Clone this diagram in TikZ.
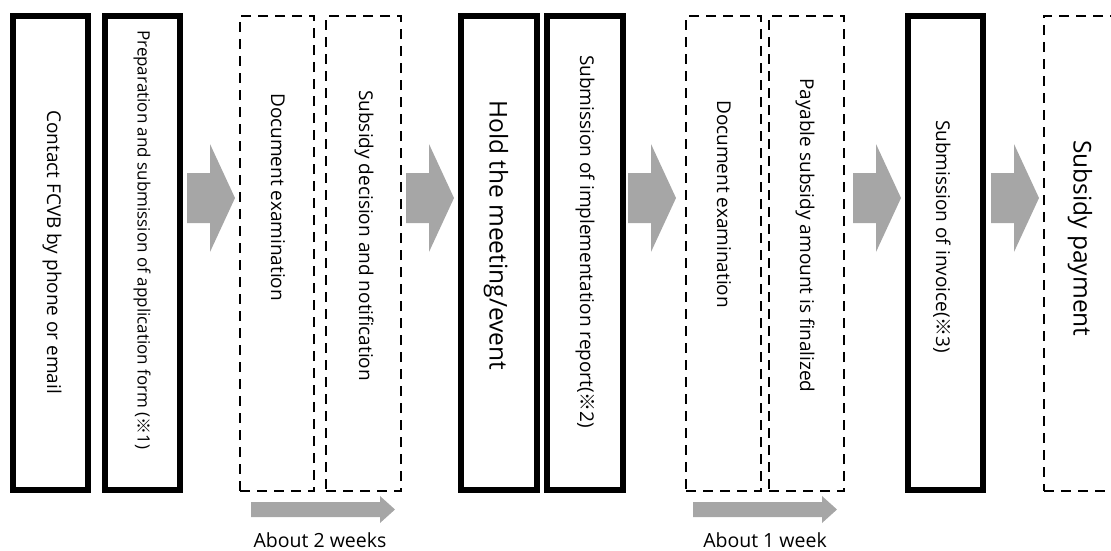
\documentclass[tikz,border=0pt]{standalone}
\usepackage{fontspec}
\setmainfont{Open Sans}
\newfontfamily\cjkfont{Noto Sans CJK JP}
\newcommand\kome{{\cjkfont ※}}
\definecolor{arrowgray}{RGB}{166,166,166}
\begin{document}
\begin{tikzpicture}[x=1pt,y=-1pt,
  solidbox/.style={draw=black, line width=6pt, minimum height=474pt, inner sep=0pt},
  dashbox/.style={draw=black, line width=2pt, dash pattern=on 10pt off 7pt, minimum height=475pt, inner sep=0pt},
  vtext/.style={rotate=-90, anchor=west, inner sep=0pt},
  medtext/.style={vtext, font=\fontsize{19}{22}\selectfont},
  tinytext/.style={vtext, font=\fontsize{17}{20}\selectfont},
  bigtext/.style={vtext, font=\fontsize{24.5}{29}\selectfont},
  blockarrow/.style={fill=arrowgray, draw=none},
  durtext/.style={anchor=base, inner sep=0pt, font=\fontsize{19.5}{23}\selectfont}
]
\useasboundingbox (0,0) rectangle (1111,550);
\clip (0,0) rectangle (1111,550);

% boxes
\node[solidbox, minimum width=75pt] (b1) at (50.5,253) {};
\node[solidbox, minimum width=75pt] (b2) at (142.5,253) {};
\node[dashbox, minimum width=74pt] (b3) at (277,253.5) {};
\node[dashbox, minimum width=75pt] (b4) at (363.5,253.5) {};
\node[solidbox, minimum width=76pt] (b5) at (499,253) {};
\node[solidbox, minimum width=76pt] (b6) at (585,253) {};
\node[dashbox, minimum width=75pt] (b7) at (723.5,253.5) {};
\node[dashbox, minimum width=75pt] (b8) at (806.5,253.5) {};
\node[solidbox, minimum width=75pt] (b9) at (945.5,253) {};
\node[dashbox, minimum width=81pt] (b10) at (1084.5,253.5) {};

% texts
\node[medtext] (t1) at (52,110) {Contact FCVB by phone or email};
\node[tinytext] (t2) at (142,30) {Preparation and submission of application form (\kome1)};
\node[medtext] (t3) at (278,93) {Document examination};
\node[medtext] (t4) at (364,90) {Subsidy decision and notification};
\node[bigtext] (t5) at (496,100) {Hold the meeting/event};
\node[medtext] (t6) at (585,55) {Submission of implementation report(\kome2)};
\node[medtext] (t7) at (724,100) {Document examination};
\node[medtext] (t8) at (805,78) {Payable subsidy amount is finalized};
\node[medtext] (t9) at (942,120) {Submission of invoice(\kome3)};
\node[bigtext] (t10) at (1080,140) {Subsidy payment};

% gray block arrows between steps
\foreach \L in {187,406,628,853,991}{
  \path[blockarrow] (\L,173) -- (\L+23,173) -- (\L+23,144) -- (\L+48,198)
    -- (\L+23,252) -- (\L+23,223) -- (\L,223) -- cycle;
}

% duration arrows
\foreach \L in {251,693}{
  \path[blockarrow] (\L,502) -- (\L+129,502) -- (\L+129,496) -- (\L+144,509.5)
    -- (\L+129,523) -- (\L+129,517) -- (\L,517) -- cycle;
}
\node[durtext] (d1) at (320,547) {About 2 weeks};
\node[durtext] (d2) at (765,547) {About 1 week};
\end{tikzpicture}
\end{document}
